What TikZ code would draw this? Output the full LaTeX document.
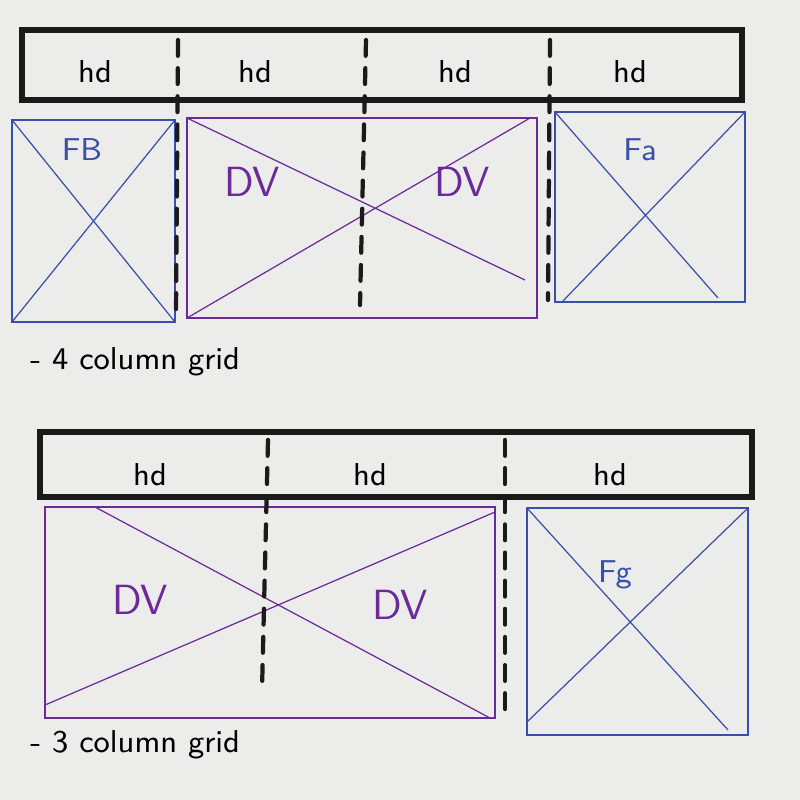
\documentclass[tikz,border=0pt]{standalone}
\usepackage{tikz}
\usetikzlibrary{positioning}
\definecolor{paper}{HTML}{ECECEA}
\definecolor{ink}{HTML}{1A1A1A}
\definecolor{penblue}{HTML}{3A4FA8}
\definecolor{penpurple}{HTML}{6A2A9A}
\tikzstyle{bar} = [draw=ink, line width=1.7pt, rectangle]
\tikzstyle{divider} = [draw=ink, line width=1.2pt, dash pattern=on 4.5pt off 3.5pt, line cap=round]
\tikzstyle{frame} = [rectangle, draw, line width=0.4pt]
\tikzstyle{cross} = [line width=0.35pt]
\tikzstyle{hand} = [font=\sffamily\small]
\tikzstyle{big} = [font=\sffamily\large]
\begin{document}
\begin{tikzpicture}[x=0.01cm, y=-0.01cm]
    \useasboundingbox[fill=paper] (0,0) rectangle (800,800);
    % 4 column grid
    \draw [bar] (22,30) rectangle (742,100);
    \node [hand] (hdA) at (95,72) {hd};
    \node [hand] (hdB) at (255,72) {hd};
    \node [hand] (hdC) at (455,72) {hd};
    \node [hand] (hdD) at (630,72) {hd};
    \coordinate (dA1) at (178,40); \coordinate (dA2) at (176,315);
    \coordinate (dB1) at (366,40); \coordinate (dB2) at (360,305);
    \coordinate (dC1) at (550,40); \coordinate (dC2) at (548,300);
    \draw [penblue, frame] (12,120) rectangle (175,322);
    \draw [penblue, cross] (12,120) -- (175,322) (175,120) -- (12,322);
    \node [hand, penblue] (fb) at (82,150) {FB};
    \draw [penpurple, frame] (187,118) rectangle (537,318);
    \draw [penpurple, cross] (187,118) -- (525,280) (530,118) -- (187,318);
    \node [big, penpurple] (dvA) at (252,182) {DV};
    \node [big, penpurple] (dvB) at (462,182) {DV};
    \draw [penblue, frame] (555,112) rectangle (745,302);
    \draw [penblue, cross] (555,112) -- (718,298) (745,112) -- (562,302);
    \node [hand, penblue] (fa) at (640,150) {Fa};
    \draw [divider] (dA1) -- (dA2);
    \draw [divider] (dB1) -- (dB2);
    \draw [divider] (dC1) -- (dC2);
    \node [hand, anchor=west] (cap4) at (18,362) {- 4 column grid};
    % 3 column grid
    \draw [bar] (40,432) rectangle (752,497);
    \node [hand] (hdE) at (150,475) {hd};
    \node [hand] (hdF) at (370,475) {hd};
    \node [hand] (hdG) at (610,475) {hd};
    \coordinate (dD1) at (268,440); \coordinate (dD2) at (262,690);
    \coordinate (dE1) at (505,440); \coordinate (dE2) at (505,720);
    \draw [penpurple, frame] (45,507) rectangle (495,718);
    \draw [penpurple, cross] (95,507) -- (490,718) (495,512) -- (45,705);
    \node [big, penpurple] (dvC) at (140,600) {DV};
    \node [big, penpurple] (dvD) at (400,605) {DV};
    \draw [penblue, frame] (527,508) rectangle (748,735);
    \draw [penblue, cross] (527,508) -- (728,730) (748,508) -- (527,722);
    \node [hand, penblue] (fg) at (615,575) {Fg};
    \draw [divider] (dD1) -- (dD2);
    \draw [divider] (dE1) -- (dE2);
    \node [hand, anchor=west] (cap3) at (18,745) {- 3 column grid};
\end{tikzpicture}
\end{document}
